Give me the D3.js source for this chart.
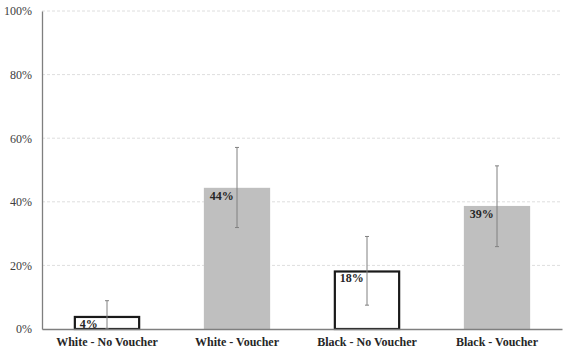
<!DOCTYPE html>
<html><head><meta charset="utf-8">
<script src="https://cdn.jsdelivr.net/npm/d3@7"></script>
<style>body{margin:0;background:#fff}svg{display:block}svg text{font-family:"Liberation Serif","Times New Roman",serif !important}</style>
</head><body>
<script>
const categories = ["White - No Voucher", "White - Voucher", "Black - No Voucher", "Black - Voucher"];
const values = [0.041, 0.444, 0.184, 0.387];
const errLow = [0.0, 0.319, 0.075, 0.259];
const errHigh = [0.089, 0.571, 0.291, 0.513];
const labels = ["4%", "44%", "18%", "39%"];
const filled = [false, true, false, true];
const yTicks = [0, 0.2, 0.4, 0.6, 0.8, 1.0];

const W = 568, H = 363;
const m = {left: 42, right: 6, top: 11, bottom: 34};
const svg = d3.select("body").append("svg").attr("width", W).attr("height", H);
const x = d3.scaleBand().domain(categories).range([m.left, W - m.right]).paddingInner(0.49).paddingOuter(0.245);
const y = d3.scaleLinear().domain([0, 1]).range([H - m.bottom, m.top]);
const font = "Liberation Serif";

// grid
svg.append("g").selectAll("line").data(yTicks.slice(1)).join("line")
  .attr("x1", m.left).attr("x2", W - m.right)
  .attr("y1", d => y(d)).attr("y2", d => y(d))
  .attr("stroke", "#dedede").attr("stroke-width", 1).attr("stroke-dasharray", "3,2");

// y axis
const ya = svg.append("g").attr("transform", `translate(${m.left},0)`)
  .call(d3.axisLeft(y).tickValues(yTicks).tickFormat(d3.format(".0%")).tickSize(0).tickPadding(10));
ya.attr("font-family", font);
ya.select(".domain").attr("stroke", "#7f7f7f").attr("stroke-width", 1.3);
ya.selectAll("text").style("font-family", font).attr("font-size", 12).attr("fill", "#404040");

// bars
const bw = x.bandwidth();
categories.forEach((c, i) => {
  const x0 = x(c);
  if (filled[i]) {
    svg.append("rect").attr("x", x0).attr("y", y(values[i])).attr("width", bw)
      .attr("height", y(0) - y(values[i])).attr("fill", "#bfbfbf");
  } else {
    svg.append("rect").attr("x", x0 + 1).attr("y", y(values[i]) + 1).attr("width", bw - 2)
      .attr("height", y(0) - y(values[i]) - 1).attr("fill", "#fff")
      .attr("stroke", "#1a1a1a").attr("stroke-width", 2.2);
  }
});

// x axis
const xa = svg.append("g").attr("transform", `translate(0,${y(0)})`)
  .call(d3.axisBottom(x).tickSize(0).tickPadding(8));
xa.attr("font-family", font);
xa.select(".domain").attr("stroke", "#7f7f7f").attr("stroke-width", 1.3);
xa.selectAll("text").style("font-family", font).attr("font-size", 12).attr("font-weight", "bold").attr("fill", "#262626");

// error bars
categories.forEach((c, i) => {
  const cx = x(c) + bw / 2;
  const g = svg.append("g").attr("stroke", "#808080").attr("stroke-width", 1);
  g.append("line").attr("x1", cx).attr("x2", cx).attr("y1", y(errHigh[i])).attr("y2", y(errLow[i]));
  g.append("line").attr("x1", cx - 2).attr("x2", cx + 2).attr("y1", y(errHigh[i])).attr("y2", y(errHigh[i]));
  g.append("line").attr("x1", cx - 2).attr("x2", cx + 2).attr("y1", y(errLow[i])).attr("y2", y(errLow[i]));
});

// value labels
categories.forEach((c, i) => {
  svg.append("text").attr("x", x(c) + 6).attr("y", y(values[i]) + 12)
    .style("font-family", font).attr("font-size", 12).attr("font-weight", "bold").attr("fill", "#262626")
    .text(labels[i]);
});
</script>
</body></html>
